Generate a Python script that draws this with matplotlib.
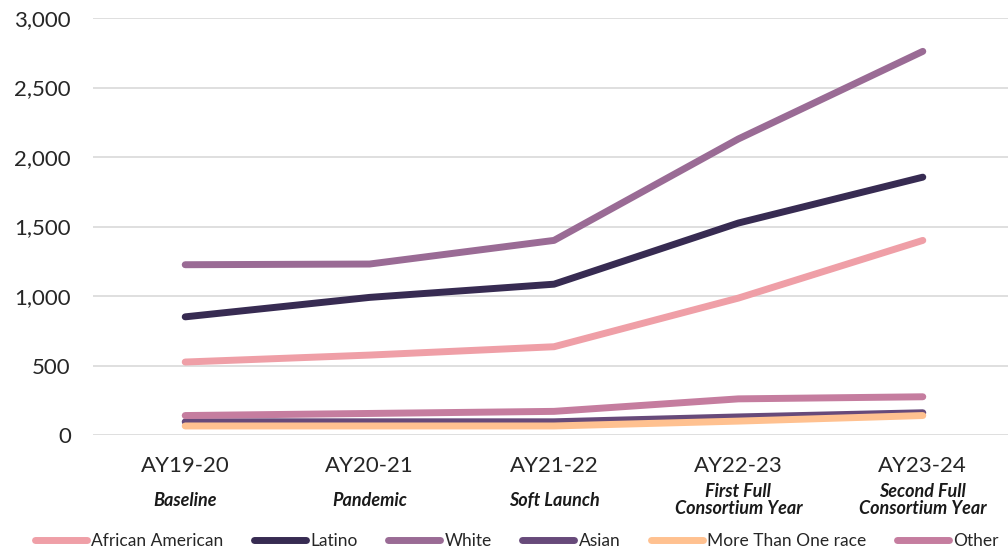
import matplotlib
matplotlib.use("Agg")
import matplotlib.pyplot as plt
from matplotlib.ticker import FuncFormatter
import matplotlib.transforms as mtransforms

plt.rcParams['font.family'] = ['Lato', 'DejaVu Sans']

# data
years = ["AY19-20", "AY20-21", "AY21-22", "AY22-23", "AY23-24"]
phases = ["Baseline", "Pandemic", "Soft Launch",
          "First Full\nConsortium Year", "Second Full\nConsortium Year"]

african_american = [525, 575, 635, 985, 1400]
latino = [850, 990, 1085, 1525, 1855]
white = [1225, 1230, 1400, 2130, 2760]
asian = [95, 95, 95, 130, 160]
more_than_one = [65, 65, 65, 100, 140]
other = [140, 155, 170, 260, 275]

series = [
    ("African American", african_american, "#EF9FA7"),
    ("Latino", latino, "#372B52"),
    ("White", white, "#9A6B95"),
    ("Asian", asian, "#674A7A"),
    ("More Than One race", more_than_one, "#FFC190"),
    ("Other", other, "#C57D9F"),
]

fig = plt.figure(figsize=(10.08, 5.52), dpi=100)
ax = fig.add_axes([93 / 1008, 1 - 435 / 552, 922 / 1008, 417 / 552])

x = list(range(len(years)))
for name, vals, col in series:
    ax.plot(x, vals, color=col, linewidth=5, solid_capstyle='round',
            solid_joinstyle='round', label=name)

ax.set_xlim(-0.5, len(years) - 0.5)
ax.set_ylim(0, 3000)
ax.set_yticks(range(0, 3001, 500))
ax.yaxis.set_major_formatter(FuncFormatter(lambda v, p: f"{int(v):,}"))
ax.set_xticks(x)
ax.set_xticklabels(years)

ax.grid(axis='y', color='#d9d9d9', linewidth=1.2)
ax.set_axisbelow(True)
for s in ax.spines.values():
    s.set_visible(False)
ax.tick_params(axis='both', length=0, labelsize=16, colors='#262626')
ax.tick_params(axis='y', pad=16)
ax.tick_params(axis='x', pad=15)

# italic phase labels under the years
trans = mtransforms.blended_transform_factory(ax.transData, fig.transFigure)
for xi, ph in zip(x, phases):
    ax.text(xi, 1 - 500 / 552, ph, transform=trans, ha='center', va='center',
            fontsize=13, fontweight='bold', fontstyle='italic',
            color='#1a1a1a', linespacing=1.0)

leg = fig.legend(loc='center left', bbox_to_anchor=(35 / 1008, 1 - 541 / 552),
                 ncol=6, frameon=False, fontsize=12.5, handlelength=3.0,
                 handletextpad=0.25, columnspacing=1.75, borderpad=0,
                 borderaxespad=0)
for t in leg.get_texts():
    t.set_color('#262626')

fig.savefig("out.png", dpi=100)
